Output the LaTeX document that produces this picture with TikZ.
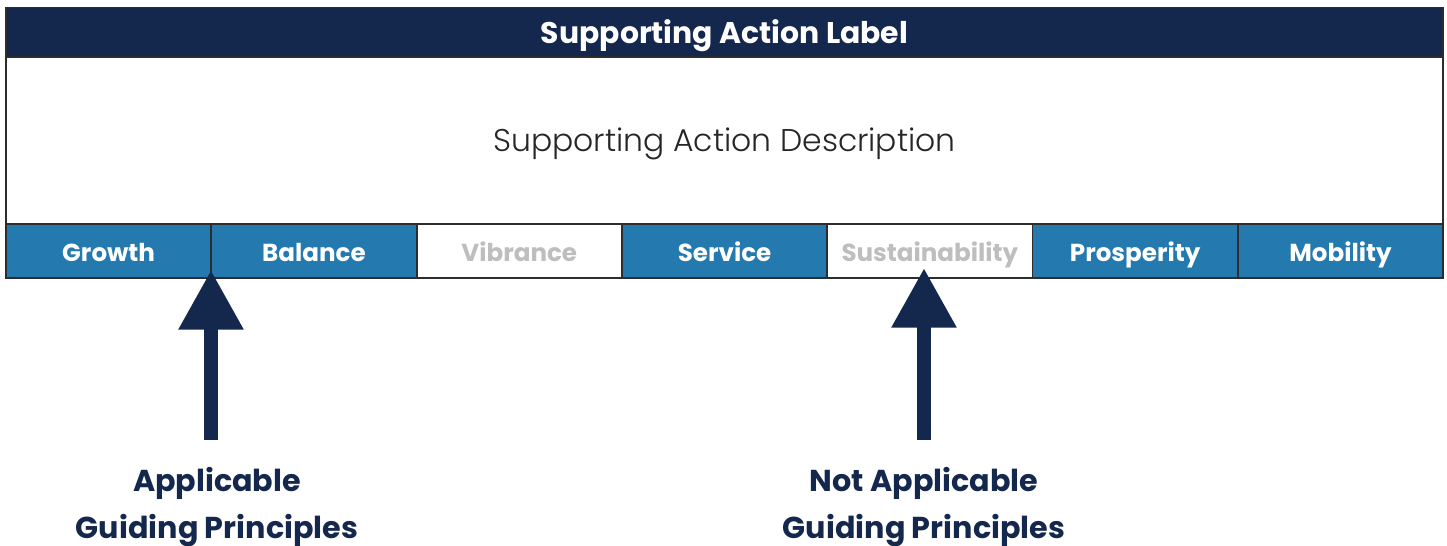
\documentclass[tikz,border=0pt]{standalone}
\usepackage{fontspec}
\setmainfont{Poppins}
\newfontfamily\lightfont{Poppins}[UprightFont=* Light]
\usetikzlibrary{arrows.meta}
\definecolor{navy_set}{RGB}{20,39,76}
\definecolor{blue_set}{RGB}{36,122,174}
\definecolor{grey_set}{RGB}{190,190,190}
\definecolor{edge_set}{RGB}{45,45,45}

\begin{document}
\begin{tikzpicture}[x=0.02cm,y=-0.02cm,
  box/.style={draw=edge_set,line width=1pt,inner sep=0pt,outer sep=0pt,
    text height=1.2em,text depth=0em},
  cell/.style={box,minimum width=4.106cm,minimum height=1.08cm,
    font=\fontsize{14}{16}\selectfont\bfseries},
  bigarrow/.style={navy_set,line width=7.9pt,
    -{Triangle[width=35pt,length=34pt]}},
  caption/.style={navy_set,align=center,
    font=\fontsize{17.2}{26.6}\selectfont\bfseries}]

\useasboundingbox (0,0) rectangle (1447,546);

% header and description
\node[box,fill=navy_set,text=white,minimum width=28.74cm,minimum height=1cm,
  font=\fontsize{17}{20}\selectfont\bfseries] (label) at (724.5,32.5) {Supporting Action Label};
\node[box,fill=white,text=black!85,minimum width=28.74cm,minimum height=3.34cm,
  font=\fontsize{17.9}{21}\selectfont\lightfont] (desc) at (724.5,140.5) {Supporting Action Description};

%-----------------------------------------------
% guiding principles
\foreach \i/\name/\word/\bg/\fg in {1/growth/Growth/blue_set/white,
    2/balance/Balance/blue_set/white,
    3/vibrance/Vibrance/white/grey_set,
    4/service/Service/blue_set/white,
    5/sustain/Sustainability/white/grey_set,
    6/prosper/Prosperity/blue_set/white,
    7/mobility/Mobility/blue_set/white}
{
  \node[cell,fill=\bg,text=\fg] (\name) at ({6+205.3*(\i-0.5)},251) {\word};
}

%-----------------------------------------------
% arrows
\coordinate (tipA) at (211,270);
\coordinate (tailA) at (211,440);
\coordinate (tipB) at (924,268);
\coordinate (tailB) at (924,440);

\draw[bigarrow] (tailA) -- (tipA);
\draw[bigarrow] (tailB) -- (tipB);

\node[caption] (applicable) at (217,507) {Applicable\\Guiding Principles};
\node[caption] (notapplicable) at (924,507) {Not Applicable\\Guiding Principles};

\end{tikzpicture}
\end{document}
